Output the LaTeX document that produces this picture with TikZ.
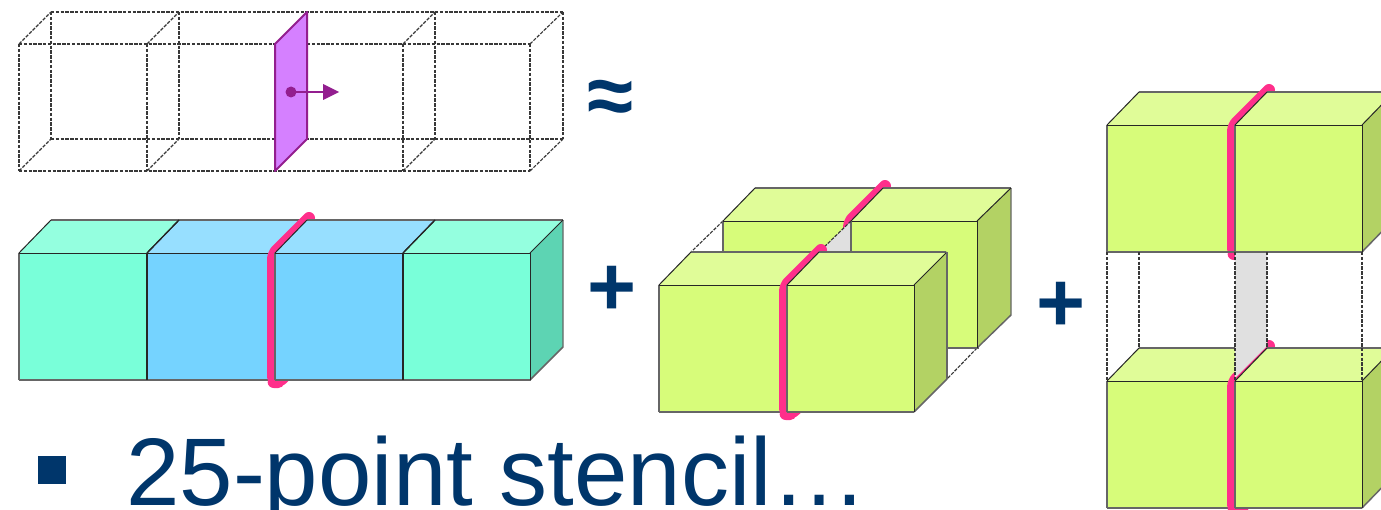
\documentclass[tikz,border=0pt]{standalone}
\usepackage{fontspec}
\setmainfont{Liberation Sans}
\definecolor{navy}{HTML}{00366B}
\definecolor{tealF}{HTML}{79FFD9}
\definecolor{tealT}{HTML}{94FFDF}
\definecolor{tealS}{HTML}{5DD4B3}
\definecolor{blueF}{HTML}{75D3FF}
\definecolor{blueT}{HTML}{97DFFF}
\definecolor{greenF}{HTML}{D7FC7A}
\definecolor{greenT}{HTML}{E0FC98}
\definecolor{greenS}{HTML}{B3D264}
\definecolor{hotpink}{HTML}{FF2F8B}
\definecolor{purpleF}{HTML}{D580FF}
\definecolor{purpleL}{HTML}{931E8F}
\definecolor{grayF}{HTML}{E0E0E0}
\definecolor{edgegray}{HTML}{666666}
\tikzset{
  outer/.style={draw=edgegray,line width=1.1pt,line join=round},
  inner/.style={draw=black!85,line width=.75pt},
  wire/.style={draw=black!78,line width=.85pt,dash pattern=on 2.6pt off 1pt},
  stencil/.style={draw=hotpink,line width=9pt,line cap=round,line join=round,rounded corners=4pt},
  symb/.style={text=navy,inner sep=0pt,font=\fontsize{63pt}{63pt}\selectfont\bfseries},
}
% block: x left, y top, width, front colour, top colour
\newcommand{\blockface}[5]{%
  \fill[#4] (#1,#2) rectangle (#1+#3,#2+127);
  \fill[#5] (#1,#2) -- (#1+32,#2-33) -- (#1+#3+32,#2-33) -- (#1+#3,#2) -- cycle;
  \draw[outer] (#1,#2+127) -- (#1+#3,#2+127);
  \draw[outer] (#1,#2+127) -- (#1,#2);
  \draw[outer] (#1+32,#2-33) -- (#1+#3+32,#2-33);
  \draw[inner] (#1,#2) -- (#1+32,#2-33);
  \draw[inner] (#1,#2) -- (#1+#3,#2);
}
% right side: x of the right front edge, y top, colour, depth
\newcommand{\blockside}[4]{%
  \fill[#3] (#1,#2) -- (#1+#4,#2-33) -- (#1+#4,#2+94) -- (#1,#2+127) -- cycle;
  \draw[outer] (#1+#4,#2-33) -- (#1+#4,#2+94) -- (#1,#2+127);
  \draw[inner] (#1,#2) -- (#1+#4,#2-33);
  \draw[inner] (#1,#2) -- (#1,#2+127);
}
% stencil line: x of the middle edge, y top
\newcommand{\stencilline}[2]{%
  \draw[stencil] (#1+34,#2-35) -- (#1-2,#2+1) -- (#1-2,#2+129) -- (#1+4,#2+129) -- (#1+14,#2+119);
}
\begin{document}
\begin{tikzpicture}[x=.75pt,y=-.75pt]
\useasboundingbox (0,0) rectangle (1381,510);
\clip (0,0) rectangle (1381,510);
\fill[white] (0,0) rectangle (1381,510);

% ---- dashed row
\foreach \xa/\xb in {19/51,147/179,403/435,530/563}{
  \draw[wire] (\xa,44) -- (\xa,171);
  \draw[wire] (\xb,12) -- (\xb,139);
  \draw[wire] (\xa,44) -- (\xb,12);
  \draw[wire] (\xa,171) -- (\xb,139);
}
\draw[wire] (19,44) -- (530,44);
\draw[wire] (19,171) -- (530,171);
\draw[wire] (51,12) -- (563,12);
\draw[wire] (51,139) -- (563,139);
\draw[fill=purpleF,draw=purpleL,line width=1.5pt,line join=round]
  (275,44) -- (307,12) -- (307,139) -- (275,171) -- cycle;
\coordinate (dotc) at (291,92);
\coordinate (tipc) at (339,92);
\coordinate (basec) at (323,92);
\fill[purpleL] (dotc) circle[radius=5.5];
\draw[purpleL,line width=1.3pt] (dotc) -- (basec);
\fill[purpleL] (tipc) -- (323,84) -- (323,100) -- cycle;
\node[symb] (approx) at (611,102) {≈};

% ---- row of four blocks
\blockface{19}{253}{128}{tealF}{tealT}
\blockface{147}{253}{128}{blueF}{blueT}
\stencilline{275}{253}
\blockface{275}{253}{128}{blueF}{blueT}
\blockface{403}{253}{128}{tealF}{tealT}
\blockside{530}{253}{tealS}{33}
\draw[inner,line width=1pt] (147,253) -- (147,380);
\draw[inner,line width=1pt] (403,253) -- (403,380);
\draw[inner,line width=1pt] (147,253) -- (179,220);
\draw[inner,line width=1pt] (403,253) -- (435,220);
\node[symb] (plusa) at (612,291) {+};

% ---- four blocks in depth
\draw[wire] (723,221) -- (691,252);
\draw[wire] (977,221) -- (947,252);
\draw[wire] (977,348) -- (947,379);
\blockface{723}{221}{128}{greenF}{greenT}
\stencilline{851}{221}
\blockface{851}{221}{128}{greenF}{greenT}
\blockside{977}{221}{greenS}{34}
\fill[grayF] (851,221) -- (851,252) -- (819,252) -- cycle;
\draw[outer] (851,221) -- (851,252);
\draw[wire] (851,221) -- (819,252);
\blockface{659}{285}{128}{greenF}{greenT}
\stencilline{787}{285}
\blockface{787}{285}{127}{greenF}{greenT}
\blockside{914}{285}{greenS}{33}
\draw[outer] (947,252) -- (947,379);
\node[symb] (plusb) at (1061,307) {+};

% ---- two blocks stacked, top pair
\blockface{1107}{125}{128}{greenF}{greenT}
\stencilline{1235}{125}
\blockface{1235}{125}{127}{greenF}{greenT}
\blockside{1362}{125}{greenS}{32}

% ---- bottom pair and the dashed links
\blockface{1107}{381}{128}{greenF}{greenT}
\stencilline{1235}{381}
\fill[grayF] (1235,252) -- (1267,252) -- (1267,346) -- (1235,378) -- cycle;
\blockface{1235}{381}{127}{greenF}{greenT}
\blockside{1362}{381}{greenS}{32}
\draw[outer] (1107,252) -- (1362,252);
\draw[wire] (1107,252) -- (1107,381);
\draw[wire] (1139,252) -- (1139,348);
\draw[wire] (1235,252) -- (1235,381);
\draw[wire] (1267,252) -- (1267,348);
\draw[wire] (1362,252) -- (1362,381);

% ---- caption
\node[fill=navy,minimum size=21pt,inner sep=0pt] (bullet) at (52,470) {};
\node[anchor=base west,inner sep=0pt,text=navy,font=\fontsize{72pt}{72pt}\selectfont] (caption) at (126,505) {25-point stencil…};
\end{tikzpicture}
\end{document}
